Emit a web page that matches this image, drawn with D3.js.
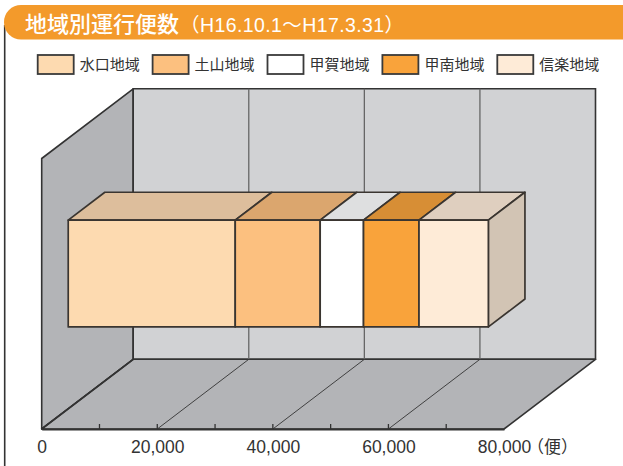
<!DOCTYPE html>
<html>
<head>
<meta charset="utf-8">
<script src="https://cdn.jsdelivr.net/npm/d3@7"></script>
<style>
  body { margin: 0; background: #fff; }
  svg { display: block; }
  .jp { font-family: "Noto Sans CJK JP", "Noto Sans", sans-serif; }
  .num { font-family: "Liberation Sans", Arial, "Noto Sans CJK JP", sans-serif; }
</style>
</head>
<body>
<svg id="chart" width="623" height="466"></svg>
<script>
// data
const regions = ["水口地域", "土山地域", "甲賀地域", "甲南地域", "信楽地域"];
const trips = [28900, 14700, 7500, 9600, 12000];
const frontColors = ["#fddab0", "#fcc07f", "#ffffff", "#f9a33b", "#feebd7"];
const topColors = ["#ddbe9c", "#dba66e", "#dedfe0", "#d78e35", "#dfcfbf"];
const sideColor = "#d2c4b4";
const category = ["運行便数"];
const majorTicks = [0, 20000, 40000, 60000, 80000];
const minorTicks = [10000, 20000, 30000, 40000, 50000, 60000, 70000];
const titleMain = "地域別運行便数";
const titleSub = "（H16.10.1～H17.3.31）";
const unitLabel = "（便）";

const svg = d3.select("#chart");

// 3d box: front plane + depth offset
const front = { left: 41.7, right: 504, top: 158.5, bottom: 429 };
const depth = { dx: 91.5, dy: 69.7 };
const barZ = [0.29, 0.69];

const x = d3.scaleLinear().domain([0, 80000]).range([front.left, front.right]);
const y = d3.scaleBand().domain(category).range([front.top, front.bottom])
    .paddingInner(0.4).paddingOuter(0.46);

const off = (t) => [t * depth.dx, -t * depth.dy];
const pt = (v, yy, t) => [x(v) + off(t)[0], yy + off(t)[1]];
const poly = (pts) => "M" + pts.map(p => p.join(",")).join("L") + "Z";

// frame line on the left and the title bar
svg.append("line")
    .attr("x1", 4.7).attr("x2", 4.7).attr("y1", 25).attr("y2", 466)
    .attr("stroke", "#333").attr("stroke-width", 1.6);

svg.append("rect")
    .attr("x", 4).attr("y", 5).attr("width", 640).attr("height", 34.5)
    .attr("rx", 17).attr("fill", "#f39a2b");

const title = svg.append("text")
    .attr("class", "jp")
    .attr("x", 25).attr("y", 31.5)
    .attr("fill", "#fff");
title.append("tspan").text(titleMain)
    .attr("font-size", 22).attr("font-weight", 500);
title.append("tspan").text(titleSub)
    .attr("class", "num")
    .attr("font-size", 19.5).attr("letter-spacing", 0.4).attr("dx", 1);

// legend
const legend = svg.append("g").selectAll("g")
    .data(regions)
    .join("g")
    .attr("transform", (d, i) => "translate(" + (37.7 + i * 114.9) + ",55)");
legend.append("rect")
    .attr("x", 0).attr("y", 0).attr("width", 36).attr("height", 19)
    .attr("fill", (d, i) => frontColors[i])
    .attr("stroke", "#3a3a3a").attr("stroke-width", 1.8);
legend.append("text")
    .attr("class", "jp")
    .attr("x", 42).attr("y", 14.8)
    .attr("font-size", 15).attr("fill", "#333")
    .text(d => d);

// walls
const yTop = front.top, yBot = front.bottom;
svg.append("path")
    .attr("d", poly([pt(0, yTop, 0), pt(0, yTop, 1), pt(0, yBot, 1), pt(0, yBot, 0)]))
    .attr("fill", "#b3b4b7").attr("stroke", "#333").attr("stroke-width", 1.6)
    .attr("stroke-linejoin", "round");
svg.append("path")
    .attr("d", poly([pt(0, yTop, 1), pt(80000, yTop, 1), pt(80000, yBot, 1), pt(0, yBot, 1)]))
    .attr("fill", "#d1d2d4").attr("stroke", "#333").attr("stroke-width", 1.6);
svg.append("path")
    .attr("d", poly([pt(0, yBot, 0), pt(80000, yBot, 0), pt(80000, yBot, 1), pt(0, yBot, 1)]))
    .attr("fill", "#b3b4b7").attr("stroke", "#333").attr("stroke-width", 1.6)
    .attr("stroke-linejoin", "round");

// back wall grid
svg.append("g").selectAll("line")
    .data(majorTicks.slice(1, -1))
    .join("line")
    .attr("x1", d => pt(d, yTop, 1)[0]).attr("x2", d => pt(d, yTop, 1)[0])
    .attr("y1", pt(0, yTop, 1)[1]).attr("y2", pt(0, yBot, 1)[1])
    .attr("stroke", "#666").attr("stroke-width", 1.3);

// floor diagonals
svg.append("g").selectAll("line")
    .data(majorTicks.slice(0, -1))
    .join("line")
    .attr("x1", d => pt(d, yBot, 0)[0]).attr("y1", yBot)
    .attr("x2", d => pt(d, yBot, 1)[0]).attr("y2", d => pt(d, yBot, 1)[1])
    .attr("stroke", "#333").attr("stroke-width", d => d === 0 ? 1.5 : 0.9);

// axis
const axis = d3.axisBottom(x)
    .tickValues(majorTicks)
    .tickSize(0).tickPadding(0)
    .tickFormat(d3.format(","));
const gx = svg.append("g")
    .attr("transform", "translate(0," + yBot + ")")
    .call(axis);
gx.select(".domain").attr("stroke", "#333").attr("stroke-width", 1.8);
gx.selectAll(".tick text")
    .attr("class", "num")
    .attr("y", 23.5).attr("dy", null)
    .attr("font-size", 17.5).attr("fill", "#333");
gx.selectAll(".minor")
    .data(minorTicks)
    .join("line")
    .attr("class", "minor")
    .attr("x1", d => x(d)).attr("x2", d => x(d))
    .attr("y1", 0).attr("y2", -5)
    .attr("stroke", "#333").attr("stroke-width", 1.3);
gx.append("text")
    .attr("class", "jp")
    .attr("x", x(80000) + 23).attr("y", 23.5)
    .attr("font-size", 17).attr("fill", "#333")
    .attr("text-anchor", "start")
    .text(unitLabel);

// stacked 3d bar
const stacked = [];
let acc = 0;
trips.forEach((v, i) => { stacked.push({ name: regions[i], x0: acc, x1: acc + v, i: i }); acc += v; });

const barTop = y(category[0]);
const barBot = barTop + y.bandwidth();
const bar = svg.append("g")
    .attr("stroke", "#3a3530").attr("stroke-width", 1.7).attr("stroke-linejoin", "round");

// tops
bar.selectAll(".top")
    .data(stacked)
    .join("path")
    .attr("class", "top")
    .attr("d", d => poly([pt(d.x0, barTop, barZ[0]), pt(d.x1, barTop, barZ[0]),
                          pt(d.x1, barTop, barZ[1]), pt(d.x0, barTop, barZ[1])]))
    .attr("fill", d => topColors[d.i]);

// right side of last segment
const last = stacked[stacked.length - 1];
bar.append("path")
    .attr("d", poly([pt(last.x1, barTop, barZ[0]), pt(last.x1, barTop, barZ[1]),
                     pt(last.x1, barBot, barZ[1]), pt(last.x1, barBot, barZ[0])]))
    .attr("fill", sideColor);

// fronts
bar.selectAll(".front")
    .data(stacked)
    .join("path")
    .attr("class", "front")
    .attr("d", d => poly([pt(d.x0, barTop, barZ[0]), pt(d.x1, barTop, barZ[0]),
                          pt(d.x1, barBot, barZ[0]), pt(d.x0, barBot, barZ[0])]))
    .attr("fill", d => frontColors[d.i]);
</script>
</body>
</html>
